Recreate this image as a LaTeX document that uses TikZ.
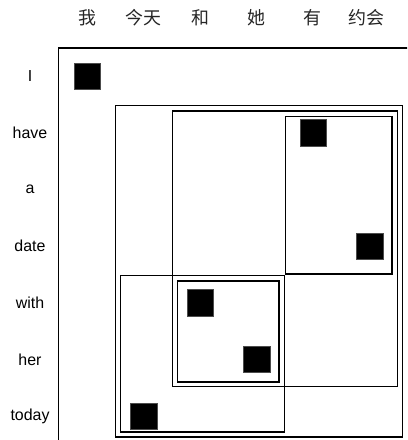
\documentclass[tikz,border=0pt]{standalone}
\usepackage{fontspec}
\setmainfont{Liberation Sans}
\newfontfamily\cjk{Noto Sans CJK SC}
\begin{document}
\begin{tikzpicture}[x=1bp,y=-1bp,
  cell/.style={fill=black,draw=black!70,line width=0.4bp,minimum size=26.5bp,inner sep=0pt},
  rowlab/.style={font=\fontsize{16}{18}\selectfont,inner sep=0pt},
  collab/.style={font=\cjk\fontsize{18}{20}\selectfont,inner sep=0pt,text=black!85},
  frame/.style={draw=black,line width=1.3bp}]
\useasboundingbox (0,0) rectangle (407,440);
\clip (0,0) rectangle (407,440);
% column labels
\node[collab] (c1) at (87,18) {我};
\node[collab] (c2) at (143.5,18) {今天};
\node[collab] (c3) at (200,18) {和};
\node[collab] (c4) at (256.5,18) {她};
\node[collab] (c5) at (312,18) {有};
\node[collab] (c6) at (366.5,18) {约会};
% row labels
\node[rowlab] (r1) at (30,76) {I};
\node[rowlab] (r2) at (30,132.7) {have};
\node[rowlab] (r3) at (30,189.3) {a};
\node[rowlab] (r4) at (30,246) {date};
\node[rowlab] (r5) at (30,302.7) {with};
\node[rowlab] (r6) at (30,359.3) {her};
\node[rowlab] (r7) at (30,416) {today};
% outer frame
\draw[frame] (58.5,48) rectangle (420,460);
% alignment cells
\node[cell] (s1) at (87,76) {};
\node[cell] (s2) at (313,132.7) {};
\node[cell] (s3) at (369.5,246) {};
\node[cell] (s4) at (200,302.7) {};
\node[cell] (s5) at (256.5,359.3) {};
\node[cell] (s6) at (143.5,416) {};
% phrase boxes
\draw[frame] (115.5,105.5) rectangle (402.7,437);
\draw[frame] (172.5,111) rectangle (397.3,386.5);
\draw[frame] (285.7,116.7) rectangle (392,274);
\draw[frame] (120.5,275.3) rectangle (284.3,432);
\draw[frame] (177.7,281) rectangle (279,382);
\end{tikzpicture}
\end{document}
